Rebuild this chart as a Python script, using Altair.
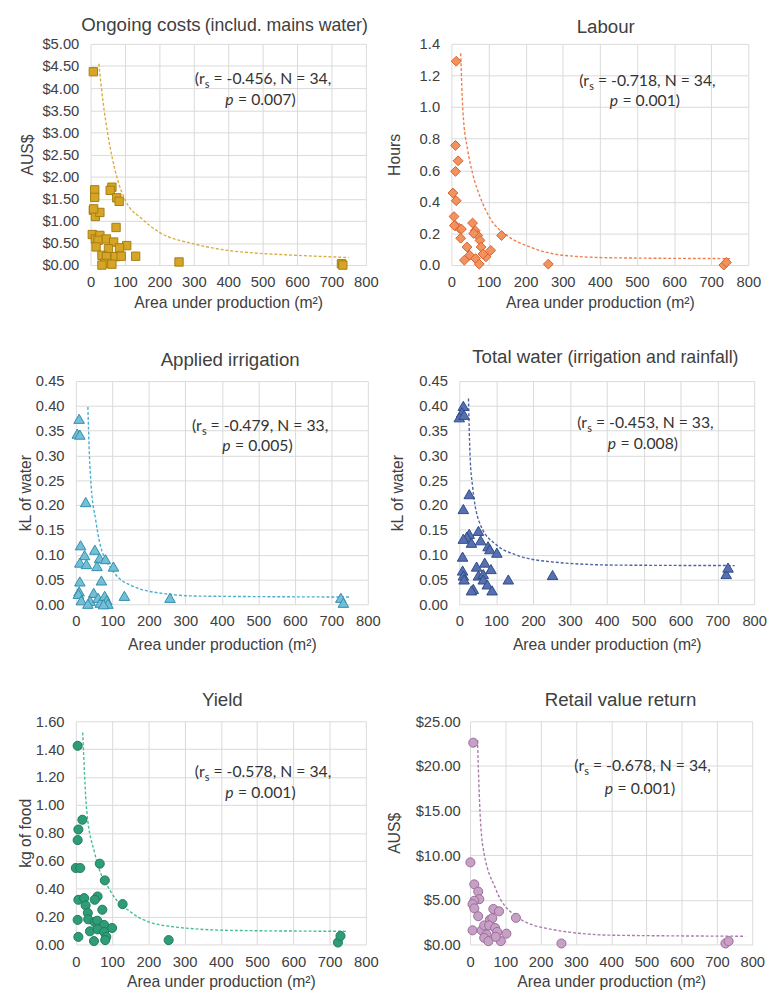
import altair as alt
import pandas as pd

# ---------------- data ----------------
X_TICKS = [0, 100, 200, 300, 400, 500, 600, 700, 800]
X_TITLE = "Area under production (m²)"

# Ongoing costs (includ. mains water)
cost_area = [8, 12, 12, 8, 14, 27, 62, 57, 76, 83, 74, 5, 14, 27, 22, 16, 46, 67, 52, 105,
             84, 33, 46, 72, 89, 131, 41, 33, 62, 257, 729, 733, 9]
cost_aud = [4.37, 1.70, 1.53, 1.24, 1.10, 1.19, 1.76, 1.69, 1.52, 1.44, 0.85, 0.69, 0.59, 0.67, 0.56,
            0.41, 0.59, 0.52, 0.37, 0.44, 0.39, 0.22, 0.19, 0.19, 0.20, 0.20, 0.04, 0.00, 0.02, 0.07,
            0.03, 0.00, 1.27]
cost_fit_x = [24, 36, 50, 76, 100, 150, 200, 300, 400, 500, 600, 750]
cost_fit_y = [4.55, 3.70, 2.96, 2.00, 1.48, 1.04, 0.74, 0.48, 0.33, 0.26, 0.22, 0.17]

# Labour
lab_area = [13, 11, 18, 11, 4, 13, 7, 11, 22, 27, 25, 57, 64, 71, 77, 80, 42, 49, 35, 65,
            75, 93, 106, 135, 261, 734, 741, 8, 60, 85]
lab_hours = [1.29, 0.757, 0.66, 0.593, 0.456, 0.407, 0.307, 0.249, 0.232, 0.228, 0.17, 0.266, 0.218,
             0.187, 0.156, 0.114, 0.114, 0.062, 0.031, 0.041, 0.006, 0.052, 0.093, 0.187, 0.006,
             0.0, 0.017, 0.25, 0.20, 0.07]
lab_fit_x = [25, 31, 44, 57, 80, 106, 150, 212, 301, 433, 751]
lab_fit_y = [1.34, 0.975, 0.726, 0.581, 0.415, 0.29, 0.187, 0.114, 0.062, 0.046, 0.041]

# Applied irrigation
irr_area = [9, 4, 11, 27, 13, 24, 11, 29, 52, 65, 58, 81, 103, 11, 70, 9, 7, 15, 49, 39,
            33, 61, 67, 79, 85, 88, 76, 133, 258, 726, 733]
irr_kl = [0.374, 0.344, 0.342, 0.206, 0.119, 0.099, 0.084, 0.081, 0.110, 0.093, 0.077, 0.091, 0.076,
          0.046, 0.048, 0.026, 0.021, 0.008, 0.023, 0.007, 0.001, 0.013, 0.003, 0.017, 0.008, 0.001,
          0.0, 0.017, 0.013, 0.013, 0.003]
irr_fit_x = [33, 37, 42, 54, 67, 103, 157, 247, 337, 751]
irr_fit_y = [0.398, 0.304, 0.238, 0.172, 0.119, 0.066, 0.036, 0.021, 0.0165, 0.0146]

# Total water (irrigation and rainfall)
tot_area = [11, 7, 0, 13, 27, 11, 27, 20, 33, 11, 52, 58, 78, 83, 102, 9, 69, 47, 86, 9,
            11, 13, 52, 65, 65, 76, 38, 33, 89, 133, 253, 724, 729]
tot_kl = [0.400, 0.387, 0.377, 0.382, 0.222, 0.192, 0.142, 0.136, 0.124, 0.132, 0.148, 0.129, 0.117,
          0.111, 0.104, 0.096, 0.084, 0.076, 0.071, 0.068, 0.058, 0.050, 0.058, 0.061, 0.050, 0.040,
          0.031, 0.028, 0.028, 0.050, 0.059, 0.061, 0.074]
tot_fit_x = [25, 29, 36, 58, 102, 156, 244, 422, 747]
tot_fit_y = [0.415, 0.304, 0.238, 0.159, 0.119, 0.099, 0.086, 0.079, 0.078]

# Yield
yld_area = [5, 18, 7, 5, 0, 12, 66, 80, 7, 23, 60, 52, 27, 33, 73, 129, 5, 34, 52, 59,
            78, 100, 39, 60, 78, 7, 84, 50, 81, 256, 723, 730]
yld_kg = [1.424, 0.894, 0.824, 0.748, 0.548, 0.548, 0.579, 0.459, 0.32, 0.332, 0.344, 0.32, 0.28,
          0.226, 0.249, 0.289, 0.176, 0.18, 0.16, 0.17, 0.14, 0.118, 0.094, 0.108, 0.089, 0.054,
          0.054, 0.024, 0.031, 0.031, 0.014, 0.061]
yld_fit_x = [19, 30, 52, 98, 152, 242, 423, 750]
yld_fit_y = [1.52, 0.96, 0.654, 0.372, 0.231, 0.136, 0.101, 0.094]

# Retail value return
ret_area = [9, 1, 12, 23, 26, 12, 7, 12, 23, 66, 82, 130, 56, 63, 7, 33, 40, 54, 71, 77,
            103, 47, 40, 52, 87, 73, 259, 724, 733]
ret_aud = [22.6, 9.19, 6.73, 5.92, 5.07, 4.89, 4.52, 4.04, 3.16, 3.97, 3.71, 2.98, 2.76, 2.94, 1.58,
           1.58, 2.13, 2.13, 1.84, 1.40, 1.21, 1.10, 0.74, 0.37, 0.37, 0.85, 0.11, 0.11, 0.37]
ret_fit_x = [21, 26, 35, 73, 128, 221, 407, 780]
ret_fit_y = [22.9, 16.8, 11.3, 6.18, 3.24, 1.76, 1.03, 0.92]

STATS = {
    "cost": ("-0.456", "34", "0.007"),
    "lab": ("-0.718", "34", "0.001"),
    "irr": ("-0.479", "33", "0.005"),
    "tot": ("-0.453", "33", "0.008"),
    "yld": ("-0.578", "34", "0.001"),
    "ret": ("-0.678", "34", "0.001"),
}

AX_FONT = "Liberation Sans"
ANN_FONT = "Lato"
TXT = "#404040"
ANN = "#333333"


def text_layer(txt, px, py, size, align="left", font=AX_FONT, style="normal", color=TXT):
    return alt.Chart(alt.Data(values=[{"t": txt}])).mark_text(
        align=align, baseline="alphabetic", font=font, fontSize=size,
        fontStyle=style, color=color
    ).encode(text="t:N", x=alt.value(px), y=alt.value(py))


def spacer(w):
    # invisible, axis-less cell used only to set the left offset of a row
    return alt.Chart(alt.Data(values=[{"a": 0}])).mark_rule(opacity=0, strokeWidth=0).encode(
        x=alt.value(0), x2=alt.value(w), y=alt.value(0)).properties(width=w, height=1)


def panel(xs, ys, fx, fy, ytitle, ydom, yvals, yfmt, ytp, ylp, xtp, shape, msize, fill, stroke,
          lcolor, w, h, title, stats, ann):
    df = pd.DataFrame({"area": xs, "val": ys})
    fit = pd.DataFrame({"area": fx, "val": fy})
    xaxis = alt.Axis(values=X_TICKS, title=X_TITLE, format="d", labelPadding=10,
                     titlePadding=xtp, labelOverlap=False, labelFlush=False, grid=True)
    yaxis = alt.Axis(values=yvals, format=yfmt, title=ytitle, labelPadding=ylp,
                     titlePadding=ytp, labelOverlap=False, labelFlush=False, grid=True)
    xenc = alt.X("area:Q", scale=alt.Scale(domain=[0, 800], nice=False, zero=False), axis=xaxis)
    yenc = alt.Y("val:Q", scale=alt.Scale(domain=ydom, nice=False, zero=False), axis=yaxis)
    line = alt.Chart(fit).mark_line(color=lcolor, strokeWidth=1.4, strokeDash=[3, 2],
                                    interpolate="monotone").encode(x=xenc, y=yenc)
    pts = alt.Chart(df).mark_point(shape=shape, size=msize, filled=True, fill=fill,
                                   stroke=stroke, strokeWidth=1, opacity=1).encode(x=xenc, y=yenc)
    layers = [line, pts]
    # panel title
    if title[0] == "center":
        _, txt, cx, by = title
        layers.append(text_layer(txt, cx, by, 19, align="center"))
    else:
        _, main, paren, mend, pstart, by = title
        layers.append(text_layer(main, mend, by, 19, align="right"))
        layers.append(text_layer(paren, pstart, by, 18, align="left"))
    # annotation "(r_s = ..., N = ..., p = ...)"
    r, n, p = stats
    c, b1, b2 = ann
    xr = c - 50.5
    layers.append(text_layer("(r", xr - 5.5, b1, 16, align="right", font=ANN_FONT, color=ANN))
    layers.append(text_layer("s", xr - 0.5, b1 + 4, 11, align="right", font=ANN_FONT, color=ANN))
    layers.append(text_layer(f"= {r}, N = {n},", xr + 3.5, b1, 16, align="left",
                             font=ANN_FONT, color=ANN))
    layers.append(text_layer("p", c - 35, b2, 16, align="left", font=ANN_FONT, style="italic",
                             color=ANN))
    layers.append(text_layer(f"= {p})", c - 22, b2, 16, align="left", font=ANN_FONT, color=ANN))
    return alt.layer(*layers).properties(width=w, height=h)


p1 = panel(cost_area, cost_aud, cost_fit_x, cost_fit_y, "AUS$", [0, 5],
           [0, 0.5, 1, 1.5, 2, 2.5, 3, 3.5, 4, 4.5, 5], "$.2f", 7, 12, 5, "square", 72,
           "#D6A526", "#A57D12", "#D9AE3E", 280, 225,
           ("split", "Ongoing costs", "(includ. mains water)", 112, 116, -13),
           STATS["cost"], (172, 41, 62))
p2 = panel(lab_area, lab_hours, lab_fit_x, lab_fit_y, "Hours", [0, 1.4],
           [0, 0.2, 0.4, 0.6, 0.8, 1.0, 1.2, 1.4], ".1f", 17, 12, 5, "diamond", 100,
           "#F1935F", "#DA5F2C", "#EE8050", 302, 225,
           ("center", "Labour", 157, -11), STATS["lab"], (196, 43, 63))
p3 = panel(irr_area, irr_kl, irr_fit_x, irr_fit_y, "kL of water", [0, 0.45],
           [0, 0.05, 0.1, 0.15, 0.2, 0.25, 0.3, 0.35, 0.4, 0.45], ".2f", 2, 12, 8, "triangle-up", 115,
           "#74BFD6", "#2E8DAC", "#4AAECF", 297, 227,
           ("center", "Applied irrigation", 157, -15), STATS["irr"], (184, 51, 71))
p4 = panel(tot_area, tot_kl, tot_fit_x, tot_fit_y, "kL of water", [0, 0.45],
           [0, 0.05, 0.1, 0.15, 0.2, 0.25, 0.3, 0.35, 0.4, 0.45], ".2f", 14, 12, 8, "triangle-up", 115,
           "#5670B0", "#2F4A8A", "#4D64A4", 300, 227,
           ("split", "Total water", "(irrigation and rainfall)", 105, 110, -18),
           STATS["tot"], (186, 48, 69))
p5 = panel(yld_area, yld_kg, yld_fit_x, yld_fit_y, "kg of food", [0, 1.6],
           [0, 0.2, 0.4, 0.6, 0.8, 1.0, 1.2, 1.4, 1.6], ".2f", 2, 12, 5, "circle", 85,
           "#2E9C77", "#1E7A5B", "#45BE93", 295, 227,
           ("center", "Yield", 149, -16), STATS["yld"], (187, 57, 78))
p6 = panel(ret_area, ret_aud, ret_fit_x, ret_fit_y, "AUS$", [0, 25],
           [0, 5, 10, 15, 20, 25], "$.2f", 13, 10, 5, "circle", 85,
           "#C6A0C5", "#9A6B98", "#A97DA9", 287, 227,
           ("center", "Retail value return", 153, -16), STATS["ret"], (172, 51, 74))

row1 = alt.hconcat(spacer(3), p1, p2, spacing=8)
row2 = alt.hconcat(spacer(1), p3, p4, spacing=8)
row3 = alt.hconcat(spacer(1), p5, p6, spacing=8)

chart = alt.vconcat(row1, row2, row3, spacing=39).properties(
    padding={"left": 0, "top": 0, "right": 0, "bottom": 0}
).configure_view(stroke=None).configure_axis(
    gridColor="#D9D9D9", gridWidth=1, ticks=False, domain=False,
    labelFont=AX_FONT, labelFontSize=15, labelColor=TXT,
    titleFont=AX_FONT, titleFontSize=16, titleColor=TXT, titleFontWeight="normal"
)

chart.save("out.html", embed_options={"renderer": "svg", "actions": False})
